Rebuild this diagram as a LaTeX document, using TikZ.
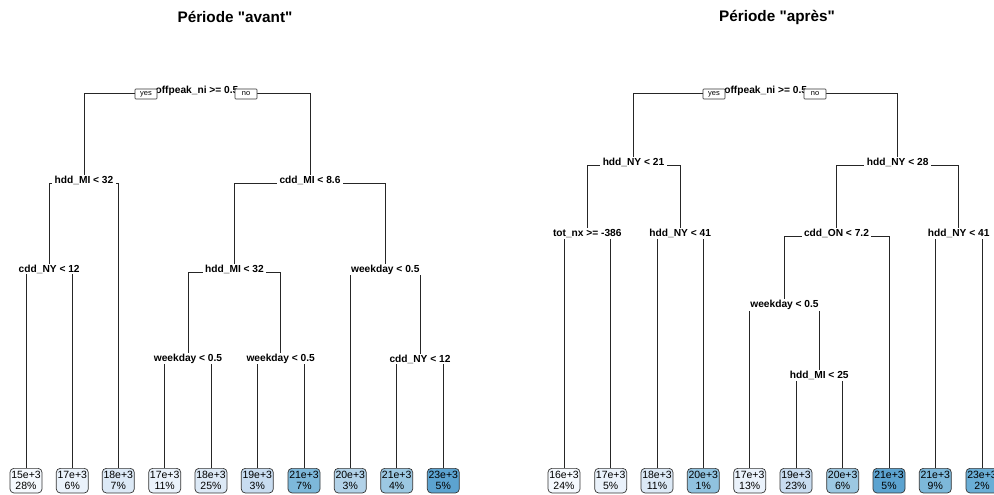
\documentclass[tikz,border=0pt]{standalone}
\usepackage{fontspec}
\setmainfont{Liberation Sans}
\usepackage{tikz}
\usepackage{xcolor}
\usetikzlibrary{backgrounds}

\definecolor{lfA}{HTML}{F5F9FE}
\definecolor{lfB}{HTML}{EAF2FB}
\definecolor{lfC}{HTML}{DCE9F6}
\definecolor{lfD}{HTML}{C8DCF0}
\definecolor{lfE}{HTML}{B2D2E8}
\definecolor{lfF}{HTML}{9CC8E2}
\definecolor{lfG}{HTML}{90C2DF}
\definecolor{lfH}{HTML}{7DB8DA}
\definecolor{lfI}{HTML}{6AAED6}
\definecolor{lfJ}{HTML}{5CA3D0}

\begin{document}
\begin{tikzpicture}[x=1pt, y=-1pt,
    split/.style={anchor=base, fill=white, inner xsep=2.5pt, inner ysep=1pt, font=\fontsize{10.2}{11}\selectfont\bfseries},
    leaf/.style={anchor=north, draw=black!80, line width=0.7pt, rounded corners=4pt, align=center,
        minimum width=32pt, inner xsep=0.5pt, inner ysep=3pt, font=\fontsize{10.5}{11.2}\selectfont},
    yesno/.style={draw=black!80, fill=white, line width=0.6pt, rounded corners=0.8pt, minimum width=22pt,
        minimum height=10pt, inner sep=0pt, font=\fontsize{7.5}{8}\selectfont},
    title/.style={font=\fontsize{15.3}{17}\selectfont\bfseries},
    edge/.style={draw=black!85, line width=0.7pt}]
                \useasboundingbox (0, 0) rectangle (994, 495);

                \node[title] (t_av) at (235, 17) {Période \textquotedbl avant\textquotedbl};
                \node[title] (t_ap) at (777, 17) {Période \textquotedbl après\textquotedbl};

                % avant
                \node[split] (av) at (197, 93.5) {offpeak\_ni >= 0.5};
                \node[split] (av_l) at (84, 183) {hdd\_MI < 32};
                \node[split] (av_ll) at (49.2, 272) {cdd\_NY < 12};
                \node[split] (av_r) at (310, 183) {cdd\_MI < 8.6};
                \node[split] (av_rl) at (234.5, 272) {hdd\_MI < 32};
                \node[split] (av_rll) at (188, 361) {weekday < 0.5};
                \node[split] (av_rlr) at (280.7, 361) {weekday < 0.5};
                \node[split] (av_rr) at (385.3, 272) {weekday < 0.5};
                \node[split] (av_rrr) at (420, 362) {cdd\_NY < 12};

                \node[leaf, fill=lfA] (av_lll) at (26, 468) {15e+3\\28\%};
                \node[leaf, fill=lfB] (av_llr) at (72.3, 468) {17e+3\\6\%};
                \node[leaf, fill=lfC] (av_lr) at (118.3, 468) {18e+3\\7\%};
                \node[leaf, fill=lfB] (av_rlll) at (164.7, 468) {17e+3\\11\%};
                \node[leaf, fill=lfC] (av_rllr) at (211, 468) {18e+3\\25\%};
                \node[leaf, fill=lfD] (av_rlrl) at (257.3, 468) {19e+3\\3\%};
                \node[leaf, fill=lfH] (av_rlrr) at (304, 468) {21e+3\\7\%};
                \node[leaf, fill=lfE] (av_rrl) at (350.3, 468) {20e+3\\3\%};
                \node[leaf, fill=lfF] (av_rrrl) at (396.7, 468) {21e+3\\4\%};
                \node[leaf, fill=lfJ] (av_rrrr) at (443.3, 468) {23e+3\\5\%};

                \node[yesno] (av_yes) at (146, 94) {yes};
                \node[yesno] (av_no) at (246, 94) {no};

                % apres
                \node[split] (ap) at (765.7, 93.5) {offpeak\_ni >= 0.5};
                \node[split] (ap_l) at (633.5, 165.3) {hdd\_NY < 21};
                \node[split] (ap_ll) at (587.3, 236.5) {tot\_nx >= -386};
                \node[split] (ap_lr) at (680.2, 236.5) {hdd\_NY < 41};
                \node[split] (ap_r) at (897.7, 165.3) {hdd\_NY < 28};
                \node[split] (ap_rl) at (836.5, 236.5) {cdd\_ON < 7.2};
                \node[split] (ap_rll) at (784.5, 307.7) {weekday < 0.5};
                \node[split] (ap_rllr) at (819.3, 378.7) {hdd\_MI < 25};
                \node[split] (ap_rr) at (958.7, 236.5) {hdd\_NY < 41};

                \node[leaf, fill=lfA] (ap_lll) at (564, 468) {16e+3\\24\%};
                \node[leaf, fill=lfB] (ap_llr) at (610.7, 468) {17e+3\\5\%};
                \node[leaf, fill=lfC] (ap_lrl) at (657, 468) {18e+3\\11\%};
                \node[leaf, fill=lfG] (ap_lrr) at (703.3, 468) {20e+3\\1\%};
                \node[leaf, fill=lfB] (ap_rlll) at (749.7, 468) {17e+3\\13\%};
                \node[leaf, fill=lfD] (ap_rllrl) at (796, 468) {19e+3\\23\%};
                \node[leaf, fill=lfF] (ap_rllrr) at (842.7, 468) {20e+3\\6\%};
                \node[leaf, fill=lfJ] (ap_rlr) at (889, 468) {21e+3\\5\%};
                \node[leaf, fill=lfH] (ap_rrl) at (935.3, 468) {21e+3\\9\%};
                \node[leaf, fill=lfI] (ap_rrr) at (982, 468) {23e+3\\2\%};

                \node[yesno] (ap_yes) at (714, 94) {yes};
                \node[yesno] (ap_no) at (815, 94) {no};

                \begin{pgfonlayer}{background}
                \draw[edge]
                (av.base) -| (av_l.base)
                (av.base) -| (av_r.base)
                (av_l.base) -| (av_ll.base)
                (av_l.base) -| (av_lr.north)
                (av_ll.base) -| (av_lll.north)
                (av_ll.base) -| (av_llr.north)
                (av_r.base) -| (av_rl.base)
                (av_r.base) -| (av_rr.base)
                (av_rl.base) -| (av_rll.base)
                (av_rl.base) -| (av_rlr.base)
                (av_rll.base) -| (av_rlll.north)
                (av_rll.base) -| (av_rllr.north)
                (av_rlr.base) -| (av_rlrl.north)
                (av_rlr.base) -| (av_rlrr.north)
                (av_rr.base) -| (av_rrl.north)
                (av_rr.base) -| (av_rrr.base)
                (av_rrr.base) -| (av_rrrl.north)
                (av_rrr.base) -| (av_rrrr.north)
                (ap.base) -| (ap_l.base)
                (ap.base) -| (ap_r.base)
                (ap_l.base) -| (ap_ll.base)
                (ap_l.base) -| (ap_lr.base)
                (ap_ll.base) -| (ap_lll.north)
                (ap_ll.base) -| (ap_llr.north)
                (ap_lr.base) -| (ap_lrl.north)
                (ap_lr.base) -| (ap_lrr.north)
                (ap_r.base) -| (ap_rl.base)
                (ap_r.base) -| (ap_rr.base)
                (ap_rl.base) -| (ap_rll.base)
                (ap_rl.base) -| (ap_rlr.north)
                (ap_rll.base) -| (ap_rlll.north)
                (ap_rll.base) -| (ap_rllr.base)
                (ap_rllr.base) -| (ap_rllrl.north)
                (ap_rllr.base) -| (ap_rllrr.north)
                (ap_rr.base) -| (ap_rrl.north)
                (ap_rr.base) -| (ap_rrr.north);
                \end{pgfonlayer}
            \end{tikzpicture}
\end{document}
